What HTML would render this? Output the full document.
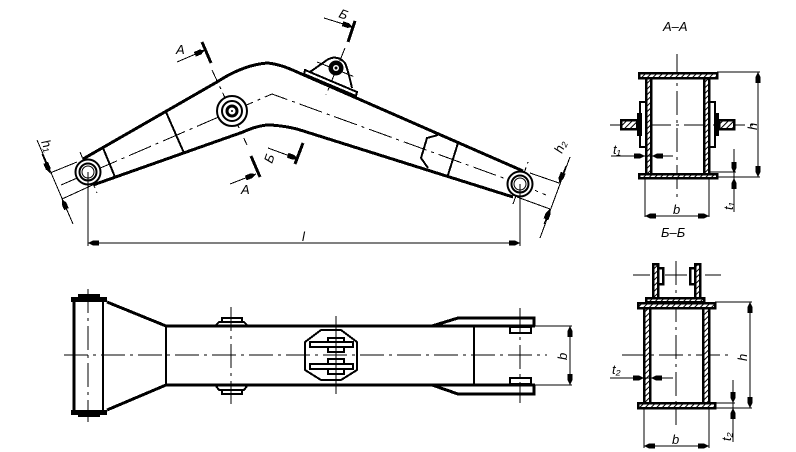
<!DOCTYPE html>
<html><head><meta charset="utf-8"><style>
html,body{margin:0;padding:0;background:#fff}
svg{display:block}
svg path,svg rect,svg circle{shape-rendering:crispEdges}
svg circle{shape-rendering:auto}
text{font-family:"Liberation Sans",sans-serif;font-style:italic;font-size:13px;fill:#000}
.t{stroke:#000;stroke-width:1;fill:none}
.c{stroke:#000;stroke-width:1;fill:none;stroke-dasharray:24 5 3 5}
.m{stroke:#000;stroke-width:2;fill:none}
.k{stroke:#000;stroke-width:3;fill:none}
.h{stroke:#000;stroke-width:2.500;fill:url(#hat)}
.w{stroke:#000;stroke-width:2;fill:#fff}
.f{fill:#000;stroke:none}
.d{stroke:#000;stroke-width:1;fill:none;marker-end:url(#a)}
.dd{stroke:#000;stroke-width:1;fill:none;marker-start:url(#a2);marker-end:url(#a)}
</style></head><body>
<svg width="796" height="452" viewBox="0 0 796 452" xmlns="http://www.w3.org/2000/svg">
<defs>
<pattern id="hat" width="4" height="4" patternUnits="userSpaceOnUse" patternTransform="rotate(45)"><rect width="4" height="4" fill="#fff"/><rect width="1" height="4" fill="#000"/></pattern>
<marker id="a" markerUnits="userSpaceOnUse" markerWidth="12" markerHeight="7" refX="11" refY="3.500" orient="auto"><path d="M0 1H6L11 3.500L6 6H0Z" fill="#000"/></marker>
<marker id="a2" markerUnits="userSpaceOnUse" markerWidth="12" markerHeight="7" refX="1" refY="3.500" orient="auto"><path d="M12 1H6L1 3.500L6 6H12Z" fill="#000"/></marker>
</defs>
<rect width="796" height="452" fill="#fff"/>

<!-- Front view: arm -->
<path class="k" d="M83 159 L217 82 Q243 65 267 63 Q280 64 297 72 L523 171"/>
<path class="k" d="M93 185 L243 132 Q256 126 267 125 Q280 125 297 129 L513 197"/>
<path class="m" d="M103 148L115 177M166 112L184 153M458 143L448 175"/>
<path class="m" d="M438 135L427 138L421 158L428 168"/>
<path class="c" d="M61 185L272 94L520 184L546 195"/>
<path class="t" d="M80 152L97 193M212 70L247 145M513 204L528 162M345 48L326 95M317 62L355 77" stroke-dasharray="14 4 3 4"/>
<!-- pins -->
<circle class="w" cx="88" cy="172" r="12.500"/><circle class="m" cx="88" cy="172" r="8.500"/><circle class="t" cx="88" cy="172" r="6"/>
<circle class="w" cx="232" cy="111" r="15" stroke-width="3"/><circle class="m" cx="232" cy="111" r="10"/><circle class="k" cx="232" cy="111" r="5"/><circle class="f" cx="232" cy="111" r="1"/>
<circle class="w" cx="520" cy="184" r="12.500"/><circle class="m" cx="520" cy="184" r="8.500"/><circle class="t" cx="520" cy="184" r="6"/>
<!-- bracket -->
<path class="m" d="M310 72L327 60Q337 54 345 63Q348 70 352 88"/>
<path class="w" d="M305 70L357 92L356 96L304 74Z"/>
<circle class="f" cx="336" cy="68" r="7.500"/><circle cx="336" cy="68" r="3" fill="#fff"/><circle class="f" cx="336" cy="68" r="1.500"/>

<!-- section marks -->
<path class="k" d="M202 42L211 63M251 156L260 177M303 143L295 164M355 21L348 42"/>
<path class="d" d="M177 62L205 50"/><path class="d" d="M230 184L256 174"/>
<path class="d" d="M268 148L298 159"/><path class="d" d="M324 18L353 27"/>
<text x="176" y="54" font-size="11">A</text>
<text x="241" y="194" font-size="11">A</text>
<text transform="translate(272,164) rotate(-70)" font-size="11">Б</text>
<text transform="translate(338,17) rotate(20)" font-size="11">Б</text>

<!-- dimensions front -->
<path class="t" d="M37 140L73 224M50 173L77 162M62 199L97 183"/>
<path class="d" d="M42 154L50 173"/><path class="d" d="M70 217L62 199"/>
<text transform="translate(41,142) rotate(67)" font-size="15">h₁</text>
<path class="t" d="M540 238L570 157M530 173L559 183M517 197L550 209"/>
<path class="d" d="M566 166L559 183"/><path class="d" d="M544 224L550 209"/>
<text transform="translate(562,154) rotate(-68)" font-size="15">h₂</text>
<path class="t" d="M88 172V246M520 184V246"/>
<path class="dd" d="M88 243H520"/>
<text x="302" y="241" font-size="15">l</text>

<!-- Section A-A -->
<text x="663" y="31" font-size="14">A–A</text>
<path class="c" d="M677 54V197" stroke-dasharray="30 5 3 5"/>
<path class="c" d="M610 125H757"/>
<rect class="h" x="639" y="73" width="78" height="5"/>
<rect class="h" x="639" y="174" width="78" height="4"/>
<rect class="h" x="646" y="78" width="5" height="96"/>
<rect class="h" x="704" y="78" width="5" height="96"/>
<path class="m" d="M645 102H640V147H645M710 102H715V147H710"/>
<rect class="f" x="637" y="113" width="5" height="23"/><rect class="f" x="715" y="113" width="4" height="23"/>
<rect class="h" x="621" y="120" width="16" height="9"/><rect class="h" x="719" y="120" width="15" height="9"/>
<path class="t" d="M717 72H760M717 177H760M709 172H736M734 149V212M645 178V217M709 178V217"/>
<path class="dd" d="M758 72V177"/>
<path class="d" d="M734 150V173"/><path class="d" d="M734 210V178"/>
<path class="t" d="M611 156H673"/><path class="d" d="M625 156H645"/><path class="d" d="M673 156H652"/>
<text x="613" y="154" font-size="14">t₁</text>
<path class="dd" d="M645 216H709"/>
<text x="673" y="214" font-size="15">b</text>
<text transform="translate(757,130) rotate(-90)" font-size="15">h</text>
<text transform="translate(733,210) rotate(-90)" font-size="14">t₁</text>

<!-- Section B-B -->
<text x="661" y="237" font-size="14">Б–Б</text>
<path class="c" d="M676 261V425" stroke-dasharray="30 5 3 5"/>
<path class="c" d="M622 355H730"/>
<path class="t" d="M633 275H650M665 275H687M705 275H721"/>
<rect class="h" x="653" y="264" width="5" height="34"/><rect class="h" x="695" y="264" width="5" height="34"/>
<rect class="w" x="658" y="268" width="5" height="16" style="stroke-width:2.500"/><rect class="w" x="690" y="268" width="5" height="16" style="stroke-width:2.500"/>
<rect class="h" x="646" y="298" width="58" height="4"/>
<rect class="h" x="638" y="303" width="77" height="5"/>
<rect class="h" x="638" y="403" width="77" height="5"/>
<rect class="h" x="644" y="308" width="6" height="95"/>
<rect class="h" x="703" y="308" width="6" height="95"/>
<path class="t" d="M715 302H752M715 408H752M715 403H735M733 380V442M644 409V448M709 409V448"/>
<path class="dd" d="M750 302V408"/>
<path class="d" d="M733 381V403"/><path class="d" d="M733 440V408"/>
<path class="t" d="M610 378H673"/><path class="d" d="M624 378H644"/><path class="d" d="M673 378H651"/>
<text x="612" y="374" font-size="14">t₂</text>
<path class="dd" d="M644 446H709"/>
<text x="672" y="444" font-size="15">b</text>
<text transform="translate(747,361) rotate(-90)" font-size="15">h</text>
<text transform="translate(731,441) rotate(-90)" font-size="14">t₂</text>

<!-- Plan view -->
<path class="k" d="M166 326H535M166 385H535"/>
<path class="m" d="M166 326V385M103 301V410M474 326V385"/>
<path class="k" d="M74 301V410M107 302L166 326M107 410L166 385"/>
<rect class="f" x="71" y="297" width="36" height="5"/><rect class="f" x="78" y="294" width="22" height="4"/>
<rect class="f" x="71" y="410" width="36" height="5"/><rect class="f" x="78" y="414" width="22" height="3"/>
<path class="m" d="M216 325L219 322H244L247 325M222 322V318H242V322"/>
<path class="m" d="M216 386L219 390H244L247 386M222 390V394H242V390"/>
<path class="k" d="M432 326L458 318H534V326M432 385L458 394H534V385"/>
<rect class="w" x="510" y="327" width="21" height="6"/><rect class="w" x="510" y="378" width="21" height="6"/>
<path class="m" d="M321 330H341L357 342V370L341 380H321L305 370V342Z"/>
<rect class="m" x="328" y="338" width="16" height="14"/><rect class="m" x="328" y="359" width="16" height="15"/>
<rect class="w" x="310" y="342" width="43" height="5"/><rect class="w" x="310" y="364" width="43" height="5"/>
<path class="c" d="M64 355H547"/>
<path class="c" d="M88 289V422"/>
<path class="c" d="M231 307V404" stroke-dasharray="30 5 3 5"/>
<path class="t" d="M336 316V394"/>
<path class="c" d="M520 308V403"/>
<path class="t" d="M535 326H572M535 385H572"/>
<path class="dd" d="M570 326V385"/>
<text transform="translate(567,360) rotate(-90)" font-size="15">b</text>
</svg>
</body></html>
